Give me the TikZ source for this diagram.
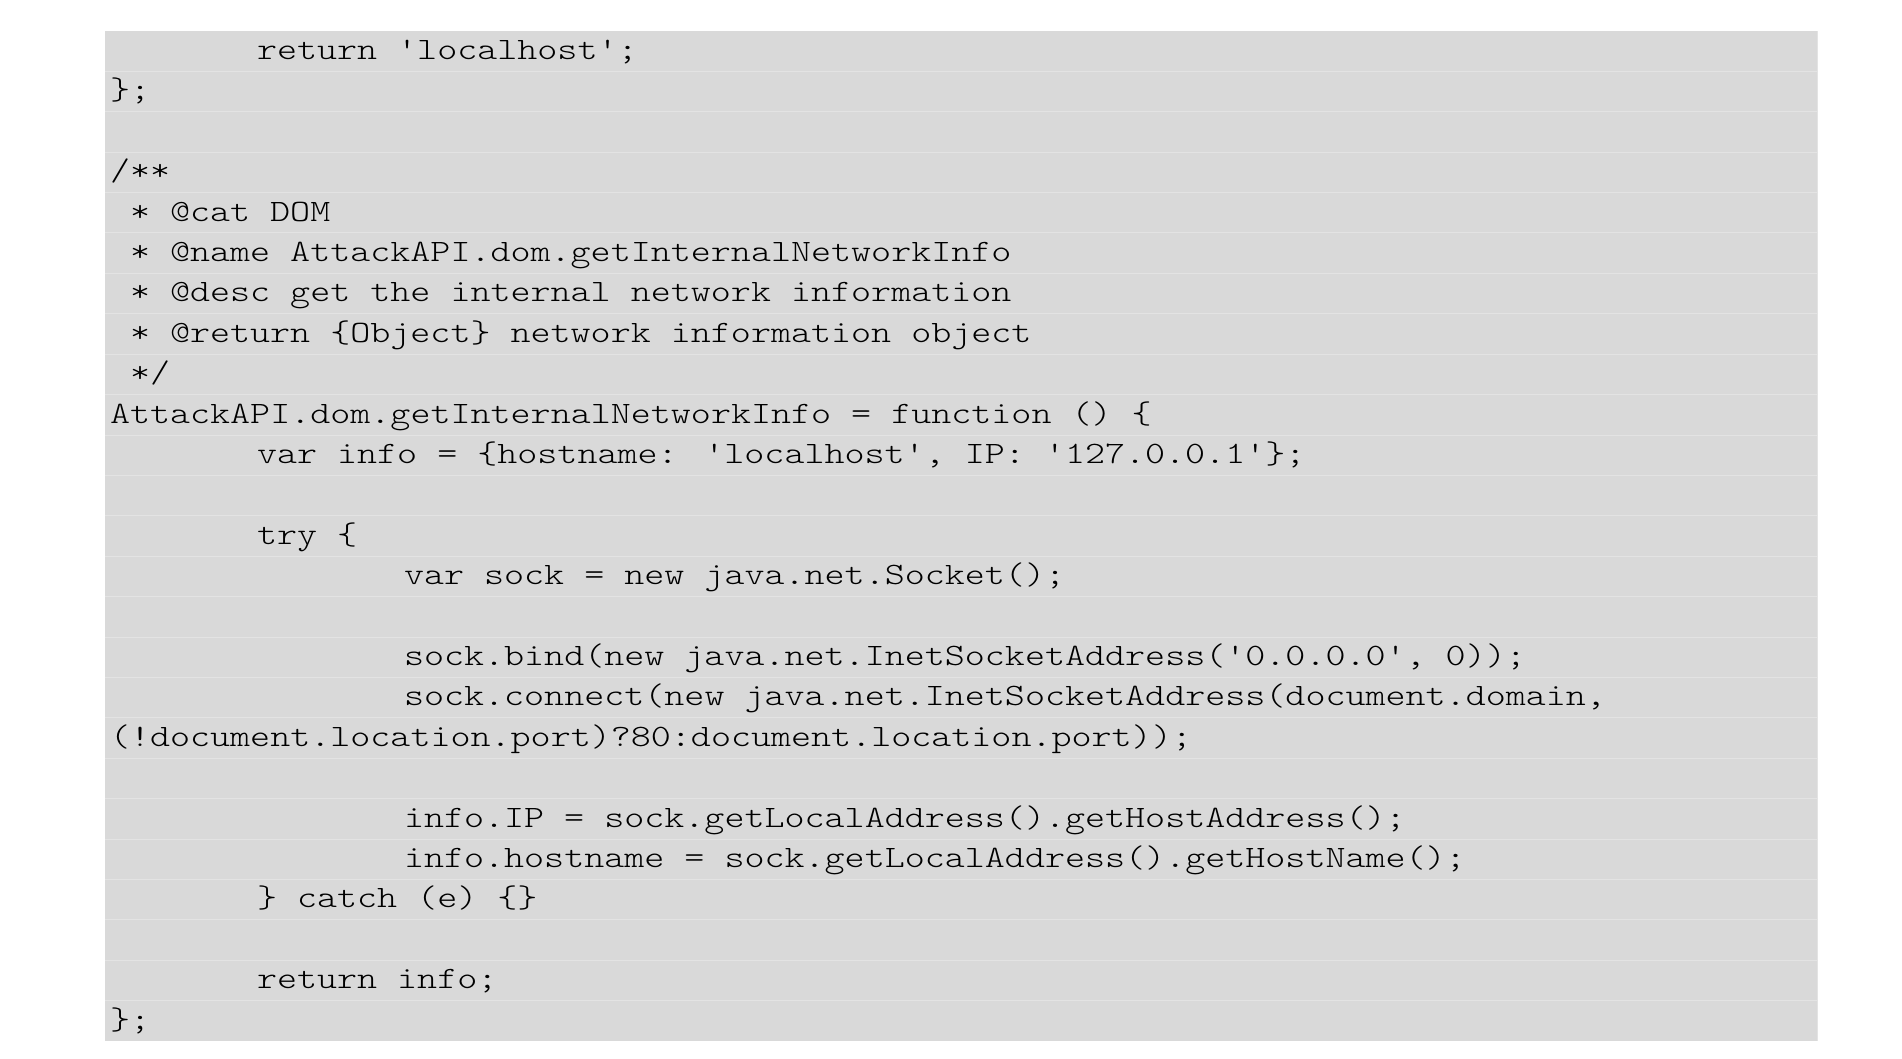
\documentclass[tikz,border=0pt]{standalone}
\usepackage{fontspec}
\newfontfamily\codefont[FakeStretch=1.227,Ligatures=TeXOff]{Latin Modern Mono Light}
\definecolor{boxgray}{HTML}{D9D9D9}
\definecolor{sepgray}{HTML}{E3E3E3}
\begin{document}
\begin{tikzpicture}[x=1pt,y=-1pt,
  codeline/.style={anchor=base west,inner sep=0pt,outer sep=0pt,text=black,
    font=\codefont\fontsize{31.1}{31.1}\selectfont},
  sepline/.style={draw=sepgray,line width=1pt}]
\useasboundingbox (0,0) rectangle (1902,1059);
\fill[boxgray] (105,31) rectangle (1818,1041);
\draw[sepline] (1817.5,31) -- (1817.5,1041);
\foreach \i in {1,...,24} {
  \draw[sepline] (105,{31+40.4*\i}) -- (1818,{31+40.4*\i});
}
% baselines: 31 + 40.4*i + 28.5
\def\Lz{110}
\def\Lo{257}
\def\Lt{404}
\node[codeline] (r0)  at (\Lo,{59.5+40.4*0})  {return 'localhost';};
\node[codeline] (r1)  at (\Lz,{59.5+40.4*1})  {\};};
\node[codeline] (r3)  at (\Lz,{59.5+40.4*3})  {/**};
\node[codeline] (r4)  at (\Lz+20,{59.5+40.4*4})  {* @cat DOM};
\node[codeline] (r5)  at (\Lz+20,{59.5+40.4*5})  {* @name AttackAPI.dom.getInternalNetworkInfo};
\node[codeline] (r6)  at (\Lz+20,{59.5+40.4*6})  {* @desc get the internal network information};
\node[codeline] (r7)  at (\Lz+20,{59.5+40.4*7})  {* @return \{Object\} network information object};
\node[codeline] (r8)  at (\Lz+20,{59.5+40.4*8})  {*/};
\node[codeline] (r9)  at (\Lz,{59.5+40.4*9})  {AttackAPI.dom.getInternalNetworkInfo = function () \{};
\node[codeline] (r10) at (\Lo,{59.5+40.4*10}) {var info = \{hostname: 'localhost', IP: '127.0.0.1'\};};
\node[codeline] (r12) at (\Lo,{59.5+40.4*12}) {try \{};
\node[codeline] (r13) at (\Lt,{59.5+40.4*13}) {var sock = new java.net.Socket();};
\node[codeline] (r15) at (\Lt,{59.5+40.4*15}) {sock.bind(new java.net.InetSocketAddress('0.0.0.0', 0));};
\node[codeline] (r16) at (\Lt,{59.5+40.4*16}) {sock.connect(new java.net.InetSocketAddress(document.domain,};
\node[codeline] (r17) at (\Lz,{59.5+40.4*17}) {(!document.location.port)?80:document.location.port));};
\node[codeline] (r19) at (\Lt,{59.5+40.4*19}) {info.IP = sock.getLocalAddress().getHostAddress();};
\node[codeline] (r20) at (\Lt,{59.5+40.4*20}) {info.hostname = sock.getLocalAddress().getHostName();};
\node[codeline] (r21) at (\Lo,{59.5+40.4*21}) {\} catch (e) \{\}};
\node[codeline] (r23) at (\Lo,{59.5+40.4*23}) {return info;};
\node[codeline] (r24) at (\Lz,{59.5+40.4*24}) {\};};
\end{tikzpicture}
\end{document}
